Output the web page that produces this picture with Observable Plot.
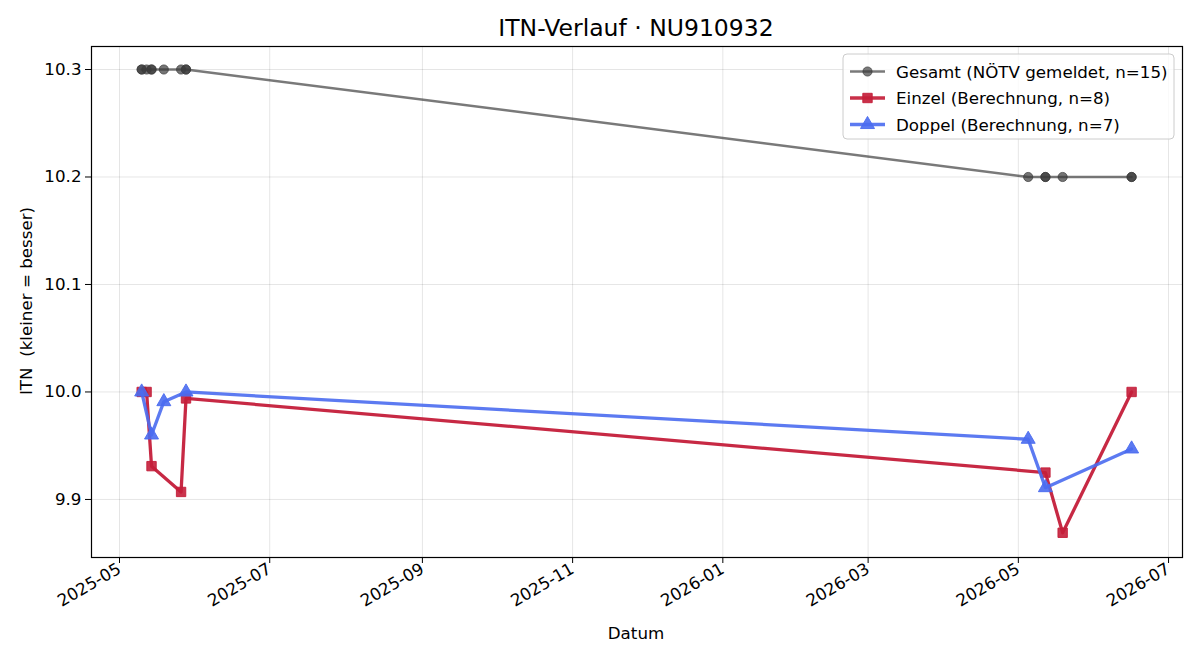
<!DOCTYPE html>
<html>
<head>
<meta charset="utf-8">
<script src="https://cdn.jsdelivr.net/npm/d3@7"></script>
<script src="https://cdn.jsdelivr.net/npm/@observablehq/plot@0.6"></script>
<style>
  body { margin: 0; background: #fff; }
  #chart { width: 1200px; height: 660px; }
</style>
</head>
<body>
<div id="chart"></div>
<script>
// ITN history for player NU910932
const gesamtDatum = ["2025-05-10","2025-05-10","2025-05-12","2025-05-14","2025-05-14","2025-05-19","2025-05-26","2025-05-28","2025-05-28",
                     "2026-05-05","2026-05-12","2026-05-12","2026-05-19","2026-06-16","2026-06-16"];
const gesamtITN   = [10.3,10.3,10.3,10.3,10.3,10.3,10.3,10.3,10.3, 10.2,10.2,10.2,10.2,10.2,10.2];

const einzelDatum = ["2025-05-10","2025-05-12","2025-05-14","2025-05-26","2025-05-28","2026-05-12","2026-05-19","2026-06-16"];
const einzelITN   = [10.0, 10.0, 9.931, 9.907, 9.994, 9.925, 9.869, 10.0];

const doppelDatum = ["2025-05-10","2025-05-14","2025-05-19","2025-05-28","2026-05-05","2026-05-12","2026-06-16"];
const doppelITN   = [10.0, 9.96, 9.991, 10.0, 9.956, 9.911, 9.947];

const xTickLabels = ["2025-05","2025-07","2025-09","2025-11","2026-01","2026-03","2026-05","2026-07"];
const yTickValues = [9.9, 10.0, 10.1, 10.2, 10.3];

const seriesNames = [
  "Gesamt (NÖTV gemeldet, n=15)",
  "Einzel (Berechnung, n=8)",
  "Doppel (Berechnung, n=7)"
];

const parseDay = d3.utcParse("%Y-%m-%d");
const parseMonth = d3.utcParse("%Y-%m");
const toRows = (dates, values) => dates.map((d, i) => ({datum: parseDay(d), itn: values[i]}));

const gesamt = toRows(gesamtDatum, gesamtITN);
const einzel = toRows(einzelDatum, einzelITN);
const doppel = toRows(doppelDatum, doppelITN);
const xTicks = xTickLabels.map(parseMonth);

const COL_G = "#3a3a3a", COL_E = "#c41e3a", COL_D = "#4a6cf0";
const FONT = "DejaVu Sans, Liberation Sans, sans-serif";

const chart = Plot.plot({
  width: 1200,
  height: 660,
  marginTop: 46,
  marginBottom: 103,
  marginLeft: 91,
  marginRight: 18,
  style: {fontFamily: FONT, fontSize: "16.7px", color: "#000", background: "#fff", overflow: "visible"},
  x: {
    type: "utc",
    domain: [new Date(Date.UTC(2025, 3, 19, 15)), new Date(Date.UTC(2026, 6, 6, 16))],
    ticks: xTicks,
    tickFormat: d3.utcFormat("%Y-%m"),
    tickRotate: -30,
    tickSize: 6,
    tickPadding: 4,
    label: null
  },
  y: {
    domain: [9.846, 10.3214],
    ticks: yTickValues,
    tickFormat: d3.format(".1f"),
    tickSize: 6,
    tickPadding: 4,
    label: null
  },
  marks: [
    Plot.gridX(xTicks, {stroke: "#000", strokeOpacity: 0.1, strokeWidth: 1}),
    Plot.gridY(yTickValues, {stroke: "#000", strokeOpacity: 0.1, strokeWidth: 1}),
    Plot.line(gesamt, {x: "datum", y: "itn", stroke: COL_G, strokeOpacity: 0.68, strokeWidth: 2.5}),
    Plot.dot(gesamt, {x: "datum", y: "itn", symbol: "circle", r: 4.6, fill: COL_G, fillOpacity: 0.7, stroke: COL_G, strokeOpacity: 0.7, strokeWidth: 1}),
    Plot.line(einzel, {x: "datum", y: "itn", stroke: COL_E, strokeOpacity: 0.95, strokeWidth: 3.3}),
    Plot.dot(einzel, {x: "datum", y: "itn", symbol: "square", r: 5.3, fill: COL_E, fillOpacity: 0.9, stroke: COL_E, strokeOpacity: 0.9, strokeWidth: 1}),
    Plot.line(doppel, {x: "datum", y: "itn", stroke: COL_D, strokeOpacity: 0.9, strokeWidth: 3.3}),
    Plot.dot(doppel, {x: "datum", y: "itn", symbol: "triangle", r: 5.2, fill: COL_D, fillOpacity: 0.9, stroke: COL_D, strokeOpacity: 0.9, strokeWidth: 1}),
    Plot.frame({stroke: "#000", strokeWidth: 1.2})
  ]
});

document.getElementById("chart").appendChild(chart);

// Title and axis labels
const svg = d3.select(chart);
svg.append("text")
  .attr("x", 636).attr("y", 28)
  .attr("text-anchor", "middle").attr("dominant-baseline", "central")
  .attr("font-family", FONT).attr("font-size", 23.5).attr("fill", "#000")
  .text("ITN-Verlauf · NU910932");
svg.append("text")
  .attr("x", 636).attr("y", 633)
  .attr("text-anchor", "middle").attr("dominant-baseline", "central")
  .attr("font-family", FONT).attr("font-size", 16.7).attr("fill", "#000")
  .text("Datum");
svg.append("text")
  .attr("transform", "translate(26,301) rotate(-90)")
  .attr("text-anchor", "middle").attr("dominant-baseline", "central")
  .attr("font-family", FONT).attr("font-size", 16.7).attr("fill", "#000")
  .style("white-space", "pre")
  .text("ITN  (kleiner = besser)");

// Legend box
const legend = svg.append("g").attr("transform", "translate(843,54)");
legend.append("rect")
  .attr("width", 331).attr("height", 85).attr("rx", 4)
  .attr("fill", "#fff").attr("fill-opacity", 0.8)
  .attr("stroke", "#ccc").attr("stroke-width", 1);
const legendItems = [
  {name: seriesNames[0], color: COL_G, op: 0.68, sw: 2.5, sym: d3.symbolCircle, size: Math.PI * 4.6 * 4.6},
  {name: seriesNames[1], color: COL_E, op: 0.92, sw: 3.3, sym: d3.symbolSquare, size: Math.PI * 5.3 * 5.3},
  {name: seriesNames[2], color: COL_D, op: 0.9, sw: 3.3, sym: d3.symbolTriangle, size: Math.PI * 5.2 * 5.2}
];
legendItems.forEach((it, i) => {
  const y = 17.5 + i * 26.5;
  const g = legend.append("g").attr("transform", `translate(0,${y})`);
  g.append("path").attr("d", "M7,0H42")
    .attr("fill", "none")
    .attr("stroke", it.color).attr("stroke-opacity", it.op).attr("stroke-width", it.sw);
  g.append("path").attr("transform", "translate(24.5,0)")
    .attr("d", d3.symbol(it.sym, it.size)())
    .attr("fill", it.color).attr("fill-opacity", it.op)
    .attr("stroke", it.color).attr("stroke-opacity", it.op);
  g.append("text").attr("x", 53).attr("y", 0)
    .attr("text-anchor", "start")
    .attr("dominant-baseline", "central")
    .attr("font-family", FONT).attr("font-size", 16.7).attr("fill", "#000")
    .text(it.name);
});
</script>
</body>
</html>
